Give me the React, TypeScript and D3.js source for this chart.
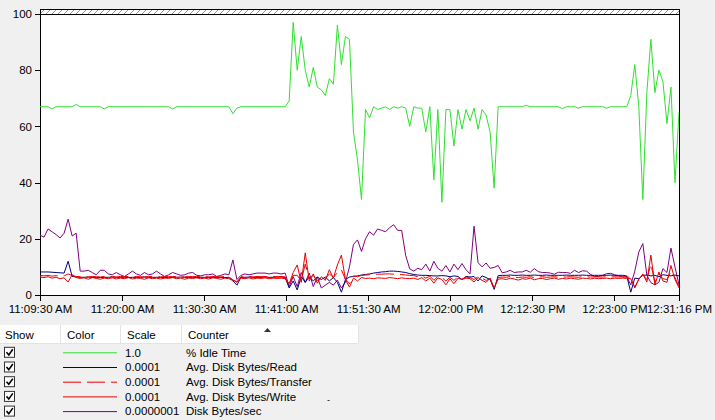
import React, { useEffect, useRef } from 'react';
import * as d3 from 'd3';

// time axis
const startTime = "11:09:30";
const endTime = "12:31:16";
const tickTimes = ["11:09:30", "11:20:00", "11:30:30", "11:41:00", "11:51:30", "12:02:00", "12:12:30", "12:23:00", "12:31:16"];
const yTicks = [0, 20, 40, 60, 80, 100];

// counters (already multiplied by the scale shown in the legend)
const idleTime = [
  67, 67, 67, 66.2, 67, 67, 67, 67, 67, 67.8,
  67, 67, 67, 67, 67, 67, 66.2, 67, 67, 67,
  67, 67, 67, 67, 67, 67, 67, 67, 67, 67,
  67, 67, 67, 66.2, 67, 67, 67, 67, 67, 67,
  67, 67, 67, 67, 67, 67, 67, 67, 64.5, 66.5,
  67, 67, 67, 67, 67, 67, 67, 67, 67, 67,
  67, 67, 69, 97, 80, 92, 80, 74, 81, 74,
  73, 71, 77, 75, 96, 82, 92, 91, 58, 48,
  34, 66, 63, 67, 66, 66.5, 67, 66, 67, 66.5,
  67, 66.5, 60, 67, 66.5, 66.5, 58, 67, 41, 66,
  33, 66, 66, 53, 66, 59, 66, 62, 66.5, 59,
  66, 64, 58, 38, 67, 67, 67, 67, 67, 67,
  67, 67.5, 67, 67, 67, 67, 67, 67, 67, 67,
  66.3, 67, 67, 67, 66.5, 67, 67, 67, 67, 67,
  67, 66.5, 67, 67, 67, 67, 67, 71, 82, 67,
  34, 72, 91, 72, 80, 76, 61, 74, 40, 65,
];

const bytesRead = [
  8.2, 8.2, 8.2, 8.1, 8, 7.9, 7.8, 12, 6.6, 6.4,
  6.3, 6.3, 6.4, 6.3, 6.3, 6.2, 6.3, 6.3, 6.4, 6.3,
  6.3, 6.3, 6.2, 6.3, 6.3, 6.3, 6.4, 6.3, 6.3, 6.3,
  6.3, 6.2, 6.3, 6.3, 6.3, 6.4, 6.3, 6.3, 6.3, 6.2,
  6.3, 6.3, 6.3, 6.3, 6.3, 6.3, 6.2, 6.3, 5, 3.5,
  6.3, 6.3, 6.4, 6.3, 6.3, 6.3, 6.4, 6.3, 6.3, 6.4,
  6.4, 6.3, 2.5, 5, 1.8, 6.5, 4.5, 6.5, 5, 6.4,
  5.5, 6.4, 5, 6.2, 4.5, 1, 5.5, 6.4, 6.6, 6.8,
  7.1, 7.3, 7.5, 7.8, 8, 8.2, 8.3, 8.5, 8.5, 8.4,
  8.2, 8, 7.6, 7.3, 7.1, 7, 7, 6.9, 6.8, 6.8,
  6.9, 6.8, 6.5, 6.8, 6.6, 5.5, 6.6, 6.4, 6.6, 5,
  6.8, 6.2, 5.5, 2, 6.9, 7, 7, 7.1, 7, 7,
  7.1, 7, 7, 7.1, 7, 7, 7.1, 7, 7, 7,
  7, 7.1, 7, 7, 7, 7.1, 7, 7, 7, 7,
  7, 7, 7.1, 7, 7, 7, 6.8, 1, 6, 5.8,
  7, 7.1, 6.8, 7, 6.5, 7.2, 7, 6.8, 7.1, 6.8,
];

const bytesTransfer = [
  7, 6.8, 7, 6.7, 6.9, 6.6, 6.8, 7.5, 6.9, 6.6,
  6.5, 6.6, 6.4, 6.6, 6.5, 6.4, 6.6, 6.5, 6.6, 6.4,
  6.6, 6.5, 6.6, 6.4, 6.6, 6.5, 6.4, 6.6, 6.5, 6.6,
  6.4, 6.6, 6.5, 6.6, 6.5, 6.6, 6.4, 6.6, 6.5, 6.6,
  6.5, 6.6, 6.4, 6.6, 6.5, 6.4, 6.6, 6.5, 5.4, 4.5,
  6.5, 6.4, 6.6, 6.4, 6.6, 6.5, 6.6, 6.5, 6.6, 6.5,
  6.6, 6.4, 3.5, 7, 7, 5, 11, 5.8, 7, 5,
  6.2, 5.8, 7.5, 6.2, 8, 9, 5.5, 4, 6.8, 6.5,
  7, 7.1, 7.2, 7.3, 7.4, 7.4, 7.5, 7.5, 7.4, 7.3,
  7.3, 7.1, 7, 6.9, 6.5, 6.8, 6, 6.7, 5.2, 6.6,
  6.2, 5, 6.3, 5.2, 6.4, 5.6, 6.4, 6.2, 5.5, 6.5,
  6, 5.2, 5.8, 2.3, 6.2, 6.4, 6.3, 6.6, 6.4, 6.2,
  6.4, 6.3, 6.5, 6.2, 6.4, 6.5, 6.3, 6.4, 6.5, 6.3,
  6.4, 6.4, 6.5, 6.4, 6.3, 6.5, 6.4, 6.4, 6.5, 6.4,
  6.4, 6.5, 6.4, 6.5, 6.4, 6.5, 6.4, 6.3, 2.5, 5.7,
  7.2, 5.5, 11, 4.5, 7.5, 5.8, 5.5, 8.5, 6.2, 3,
];

const bytesWrite = [
  6.4, 6.2, 6.5, 6, 6.3, 5.8, 6.1, 4.6, 7.2, 6.2,
  5.9, 6.1, 5.6, 6.2, 5.9, 5.6, 6, 5.8, 6.1, 5.7,
  6, 5.8, 6.2, 5.7, 6, 5.9, 5.6, 6.1, 5.8, 6,
  5.7, 6, 5.9, 6.2, 5.8, 6, 5.6, 6, 5.9, 6.1,
  5.8, 6, 5.7, 6.1, 5.9, 5.6, 6, 5.8, 5.2, 4.8,
  6, 5.8, 6.1, 5.7, 6, 5.9, 6.1, 5.8, 6, 5.9,
  6, 5.8, 4, 8, 10.7, 4.5, 15, 5, 7.5, 4.2,
  6.5, 5.2, 9, 6, 10.7, 14.2, 5.5, 2.8, 6, 5,
  6.2, 5.9, 6, 5.8, 6.1, 6, 5.9, 6.2, 6, 5.8,
  6.1, 5.9, 5.8, 6, 5.5, 6.2, 5, 6, 4.2, 6.1,
  5.5, 3.6, 5.8, 4, 6, 5.5, 6, 5.8, 4.6, 6.2,
  5.2, 4.5, 6, 2.5, 5.6, 5.8, 5.5, 6, 5.7, 5.3,
  5.8, 5.6, 6, 5.4, 5.8, 5.9, 5.5, 5.8, 6, 5.6,
  5.9, 5.7, 6, 5.8, 5.6, 6, 5.9, 5.7, 6, 5.8,
  5.9, 6, 5.8, 6, 5.9, 6, 5.9, 5.8, 2.8, 5.5,
  7.5, 4.6, 14.2, 3.6, 8.2, 5, 4.5, 10.5, 5.5, 2.5,
];

const bytesPerSec = [
  21.3, 20.6, 23.5, 22.5, 21.5, 20.3, 22, 27, 21, 22,
  8.5, 8.5, 8.8, 8, 7.2, 8.8, 8.8, 7.5, 7.2, 8,
  7.2, 6.6, 7.5, 8.5, 7.5, 7, 8, 7.2, 7.5, 8.5,
  7.5, 6.6, 7.2, 8, 7.5, 7, 7.2, 7.8, 8, 7,
  6.8, 7.2, 7.2, 7.5, 6.6, 7, 7.5, 7.2, 12.5, 5.5,
  7, 7.5, 7.2, 7.5, 7.8, 7.8, 7.8, 7.5, 7.8, 7.8,
  7.5, 7.8, 3, 6.5, 3, 8, 4.5, 7.8, 3, 6.4,
  2.5, 3.5, 4.5, 3.5, 5.3, 2.5, 4.6, 10, 18, 19.6,
  15.5, 20, 22.5, 21.3, 23.5, 23, 22.5, 24, 25, 23,
  23, 14, 9.3, 8.5, 9.5, 9, 11, 8.5, 12, 9.5,
  8.5, 10.5, 8.2, 11, 9, 11.2, 9, 7.5, 24.5, 11.5,
  10, 11.4, 9.5, 9.8, 10.5, 7.9, 8.2, 8.8, 8, 8.2,
  8.2, 8.8, 8.1, 9.4, 8.3, 8, 8, 7.8, 7.4, 8.1,
  8, 8, 7.7, 8.8, 8, 8.6, 8.5, 7.3, 6.6, 6.6,
  7, 7.6, 7.7, 7.2, 6.8, 6.4, 6.5, 3.6, 8.5, 15.3,
  18.3, 7, 4.4, 3.6, 4.5, 9.4, 8, 16.7, 10, 3.6,
];

const counterNames = ["% Idle Time", "Avg. Disk Bytes/Read", "Avg. Disk Bytes/Transfer", "Avg. Disk Bytes/Write", "Disk Bytes/sec"];
const counterScales = ["1.0", "0.0001", "0.0001", "0.0001", "0.0000001"];
const counterColors = ["#2fe02f", "#00007f", "#f00000", "#e80000", "#7f007f"];
const counterDashes = [null, null, "18,6", null, null];
const counterValues = [idleTime, bytesRead, bytesTransfer, bytesWrite, bytesPerSec];
// draw order: idle first, disk bytes/sec under the red lines
const drawOrder = [0, 4, 1, 2, 3];

const headers = ["Show", "Color", "Scale", "Counter"];

const App: React.FC = () => {
  const svgRef = useRef<SVGSVGElement>(null);
  const width = 715;
  const height = 420;

  useEffect(() => {
    if (!svgRef.current) return;
    const svg = d3.select(svgRef.current);
    svg.selectAll("*").remove();

    const font = "'Liberation Sans', Arial, sans-serif";
    const margin = { top: 14, right: 36, bottom: 125, left: 40 };
    const innerWidth = width - margin.left - margin.right;
    const innerHeight = height - margin.top - margin.bottom;

    const parse = d3.timeParse("%H:%M:%S");
    const fmt = d3.timeFormat("%-I:%M:%S %p");
    const t0 = parse(startTime) as Date;
    const t1 = parse(endTime) as Date;
    const n = idleTime.length;
    const sampleTimes = d3.range(n).map(i => new Date(+t0 + (i * (+t1 - +t0)) / (n - 1)));

    const x = d3.scaleTime().domain([t0, t1]).range([0, innerWidth]);
    const y = d3.scaleLinear().domain([0, 100]).range([innerHeight, 0]);

    svg.append("rect").attr("width", width).attr("height", height).attr("fill", "#f0f0f0");

    const defs = svg.append("defs");
    const pat = defs.append("pattern")
      .attr("id", "hatch").attr("patternUnits", "userSpaceOnUse")
      .attr("width", 6).attr("height", 5);
    pat.append("rect").attr("width", 6).attr("height", 5).attr("fill", "#fff");
    pat.append("line").attr("x1", 0).attr("y1", 5).attr("x2", 5).attr("y2", 0)
      .attr("stroke", "#777").attr("stroke-width", 0.8);
    defs.append("clipPath").attr("id", "plotClip")
      .append("rect").attr("width", innerWidth).attr("height", innerHeight + 1);

    const g = svg.append("g").attr("transform", `translate(${margin.left}, ${margin.top})`);

    g.append("rect").attr("width", innerWidth).attr("height", innerHeight).attr("fill", "#fff");
    g.append("rect").attr("x", 0).attr("y", -5).attr("width", innerWidth).attr("height", 5)
      .attr("fill", "url(#hatch)").attr("stroke", "#000").attr("stroke-width", 1)
      .attr("shape-rendering", "crispEdges");

    // axes
    const xAxis = g.append("g")
      .attr("transform", `translate(0, ${innerHeight})`)
      .call(d3.axisBottom(x)
        .tickValues(tickTimes.map(s => parse(s) as Date))
        .tickFormat(d => fmt(d as Date))
        .tickSize(6).tickSizeOuter(0).tickPadding(4));
    xAxis.selectAll("text").style("font-size", "11.5px").style("font-family", font).attr("fill", "#000");
    xAxis.selectAll("line,path").attr("stroke", "#000").attr("shape-rendering", "crispEdges");

    const yAxis = g.append("g")
      .call(d3.axisLeft(y).tickValues(yTicks).tickSize(5).tickSizeOuter(0).tickPadding(3));
    yAxis.selectAll("text").style("font-size", "11.5px").style("font-family", font).attr("fill", "#000");
    yAxis.selectAll("line,path").attr("stroke", "#000").attr("shape-rendering", "crispEdges");

    // frame
    g.append("line").attr("x1", innerWidth).attr("x2", innerWidth).attr("y1", -5).attr("y2", innerHeight + 6)
      .attr("stroke", "#000").attr("shape-rendering", "crispEdges");
    g.append("line").attr("x1", 0).attr("x2", innerWidth).attr("y1", 0).attr("y2", 0)
      .attr("stroke", "#000").attr("shape-rendering", "crispEdges");

    // counters
    const line = d3.line<number>()
      .x((d, i) => x(sampleTimes[i]))
      .y(d => y(d));

    const lines = g.append("g").attr("clip-path", "url(#plotClip)");
    drawOrder.forEach(k => {
      const p = lines.append("path")
        .datum(counterValues[k])
        .attr("fill", "none")
        .attr("stroke", counterColors[k])
        .attr("stroke-width", 1)
        .attr("stroke-linejoin", "round")
        .attr("d", line);
      if (counterDashes[k]) p.attr("stroke-dasharray", counterDashes[k] as string);
    });

    // legend table
    const lg = svg.append("g").style("font-family", font).style("font-size", "11.5px");
    const headTop = 325;
    const headH = 18;
    const colX = [0, 60, 120, 181, 358];
    lg.append("rect").attr("x", 0).attr("y", headTop).attr("width", colX[4]).attr("height", headH).attr("fill", "#fff");
    lg.append("line").attr("x1", 0).attr("x2", colX[4]).attr("y1", headTop + headH + 0.5).attr("y2", headTop + headH + 0.5)
      .attr("stroke", "#e3e3e3");
    colX.slice(1).forEach(cx => {
      lg.append("line").attr("x1", cx + 0.5).attr("x2", cx + 0.5).attr("y1", headTop).attr("y2", headTop + headH)
        .attr("stroke", "#e3e3e3");
    });
    headers.forEach((h, i) => {
      lg.append("text").attr("x", colX[i] + (i === 0 ? 5 : 7)).attr("y", headTop + 13.5).attr("fill", "#000").text(h);
    });
    lg.append("path").attr("d", "M264,332 L267.5,328 L271,332 Z").attr("fill", "#333");

    const rowY = d3.scaleLinear().domain([0, 1]).range([352.3, 367]);
    counterNames.forEach((name, k) => {
      const cy = rowY(k);
      const row = lg.append("g");
      row.append("rect").attr("x", 4.5).attr("y", cy - 5).attr("width", 10).attr("height", 10)
        .attr("fill", "#fff").attr("stroke", "#333");
      row.append("path").attr("d", `M6.5,${cy} L8.8,${cy + 2.6} L12.8,${cy - 3}`)
        .attr("fill", "none").attr("stroke", "#000").attr("stroke-width", 1.6);
      const sw = row.append("line").attr("x1", 63).attr("x2", 117).attr("y1", cy + 0.5).attr("y2", cy + 0.5)
        .attr("stroke", counterColors[k]).attr("stroke-width", 1);
      if (counterDashes[k]) sw.attr("stroke-dasharray", counterDashes[k] as string);
      row.append("text").attr("x", 125).attr("y", cy + 4.3).attr("fill", "#000").text(counterScales[k]);
      row.append("text").attr("x", 186).attr("y", cy + 4.3).attr("fill", "#000").text(name);
    });
    lg.append("text").attr("x", 327).attr("y", 403).attr("fill", "#000").style("font-size", "9px").text("-");
  }, []);

  return (
    <svg
      ref={svgRef}
      width={width}
      height={height}
      style={{ position: 'absolute', left: 0, top: 0, display: 'block' }}
    />
  );
};

export default App;
